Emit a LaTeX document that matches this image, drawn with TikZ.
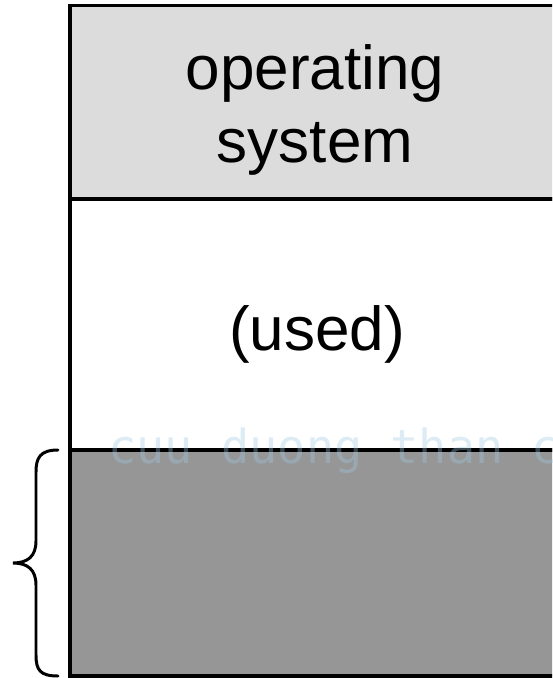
\documentclass[tikz,border=0pt]{standalone}
\usepackage{fontspec}
\setmainfont{Liberation Sans}
\newfontfamily\markfont{DejaVu Sans Mono}
\usetikzlibrary{positioning}

\definecolor{osgray}{RGB}{220,220,220}
\definecolor{freegray}{RGB}{150,150,150}
\definecolor{markblue}{RGB}{160,200,225}

\begin{document}
\begin{tikzpicture}[
  x=0.02cm, y=-0.02cm,
  region/.style={draw, line width=2pt, inner sep=0pt, outer sep=0pt, minimum width=9.84cm},
  memtext/.style={align=center, font=\fontsize{35.3}{41.5}\selectfont},
  curly/.style={line width=1.7pt, line cap=round}
]
\clip (0,0) rectangle (552,678);
\fill[white] (0,0) rectangle (552,678);

\node[region, fill=osgray, minimum height=3.87cm] (os) at (316,102.25) {};
\node[region, fill=white, minimum height=5.02cm, below=0pt of os] (used) {};
\node[region, fill=freegray, minimum height=4.52cm, below=0pt of used] (free) {};

\node[memtext] (ostext) at (315,110) {operating\\system};
\node[memtext, anchor=base] (usedtext) at (317,350) {(used)};

% watermark
\node[anchor=base west, inner sep=0pt, text=markblue, text opacity=0.35,
  font=\markfont\fontsize{26.7}{30}\selectfont] (mark) at (108,463) {cuu duong than cong};

% brace next to the free block
\coordinate (bracetop) at (58,450);
\coordinate (bracebot) at (58,676);
\draw[curly] (bracetop) .. controls (40,450) and (36,458) .. (36,472) -- (36,541)
  .. controls (36,556) and (28,563) .. (13,563)
  .. controls (28,563) and (36,570) .. (36,585) -- (36,655)
  .. controls (36,670) and (40,676) .. (bracebot);
\end{tikzpicture}
\end{document}
